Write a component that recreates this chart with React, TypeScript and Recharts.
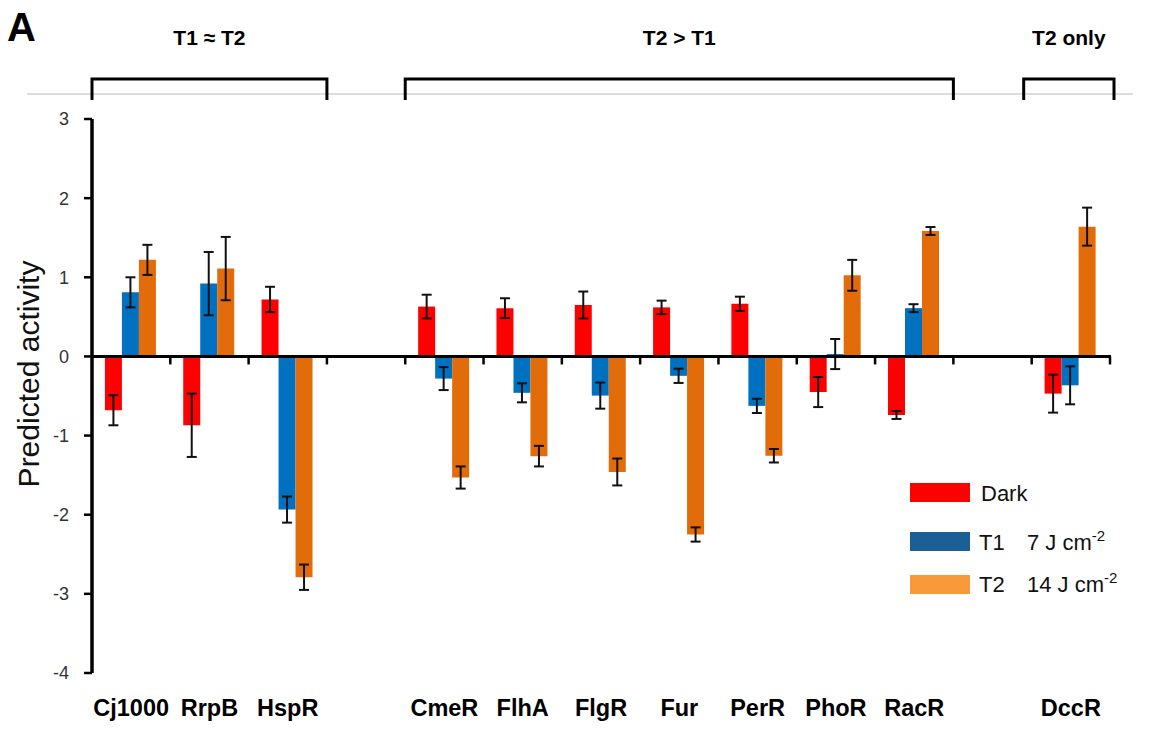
import React from 'react';
import { BarChart, Bar, XAxis, YAxis, ErrorBar, ReferenceLine } from 'recharts';

const categories = ['Cj1000', 'RrpB', 'HspR', '', 'CmeR', 'FlhA', 'FlgR', 'Fur', 'PerR', 'PhoR', 'RacR', '', 'DccR'];
const darkValues = [-0.68, -0.87, 0.72, null, 0.63, 0.61, 0.65, 0.62, 0.665, -0.45, -0.74, null, -0.47];
const darkErrors = [0.19, 0.4, 0.16, null, 0.15, 0.125, 0.17, 0.085, 0.09, 0.19, 0.05, null, 0.24];
const t1Values = [0.81, 0.92, -1.935, null, -0.28, -0.46, -0.495, -0.245, -0.625, 0.03, 0.61, null, -0.365];
const t1Errors = [0.19, 0.4, 0.165, null, 0.145, 0.12, 0.165, 0.09, 0.09, 0.19, 0.05, null, 0.24];
const t2Values = [1.22, 1.11, -2.79, null, -1.53, -1.26, -1.46, -2.25, -1.255, 1.025, 1.585, null, 1.64];
const t2Errors = [0.19, 0.4, 0.16, null, 0.14, 0.13, 0.17, 0.09, 0.085, 0.195, 0.05, null, 0.24];
const yTicks = [-4, -3, -2, -1, 0, 1, 2, 3];
const groups = [
  { label: 'T1 \u2248 T2', from: 0, to: 2 },
  { label: 'T2 > T1', from: 4, to: 10 },
  { label: 'T2 only', from: 12, to: 12 },
];

const BAR_COLORS = { dark: '#ff0000', t1: '#0070c0', t2: '#e36c0a' };
const LEGEND_COLORS = { dark: '#ff0000', t1: '#1c5e96', t2: '#f99a3a' };
const FONT = '"Liberation Sans", Arial, Helvetica, sans-serif';

const W = 1157;
const H = 745;
const M = { top: 119, right: 47, bottom: 22, left: 32 };
const Y_AXIS_W = 60;
const PLOT_LEFT = M.left + Y_AXIS_W;
const PLOT_RIGHT = W - M.right;
const BAND = (PLOT_RIGHT - PLOT_LEFT) / categories.length;

const data = categories.map((name, i) => ({
  id: i,
  name,
  dark: darkValues[i],
  darkErr: darkErrors[i],
  t1: t1Values[i],
  t1Err: t1Errors[i],
  t2: t2Values[i],
  t2Err: t2Errors[i],
}));

const ZeroAxis = (props: any) => {
  const { x1, x2, y1 } = props;
  const band = (x2 - x1) / categories.length;
  return (
    <g>
      <line x1={x1 - 1.5} x2={x2 + 1} y1={y1} y2={y1} stroke="#000" strokeWidth={3} />
      {categories.map((_, i) => (
        <line
          key={i}
          x1={x1 + band * (i + 1)}
          x2={x1 + band * (i + 1)}
          y1={y1}
          y2={y1 + 8}
          stroke="#000"
          strokeWidth={2.5}
        />
      ))}
    </g>
  );
};

export default function App() {
  return (
    <div style={{ position: 'absolute', left: 0, top: 0, width: W, height: H, background: '#fff' }}>
      <BarChart
        width={W}
        height={H}
        data={data}
        margin={M}
        barCategoryGap="16.5%"
        barGap={0}
      >
        <XAxis
          dataKey="id"
          type="category"
          axisLine={false}
          tickLine={false}
          tickSize={0}
          tickMargin={26}
          height={50}
          interval={0}
          tickFormatter={(v: any) => categories[v] ?? ''}
          tick={{ fontFamily: FONT, fontSize: 23.5, fontWeight: 700, fill: '#000' }}
        />
        <YAxis
          domain={[-4, 3]}
          ticks={yTicks}
          interval={0}
          width={Y_AXIS_W}
          axisLine={{ stroke: '#000', strokeWidth: 3.5 }}
          tickLine={{ stroke: '#000', strokeWidth: 2.5 }}
          tickSize={8}
          tickMargin={15}
          tick={{ fontFamily: FONT, fontSize: 18, fill: '#333' }}
        />
        <Bar dataKey="dark" fill={BAR_COLORS.dark} isAnimationActive={false}>
          <ErrorBar dataKey="darkErr" width={5} stroke="#111" strokeWidth={2} />
        </Bar>
        <Bar dataKey="t1" fill={BAR_COLORS.t1} isAnimationActive={false}>
          <ErrorBar dataKey="t1Err" width={5} stroke="#111" strokeWidth={2} />
        </Bar>
        <Bar dataKey="t2" fill={BAR_COLORS.t2} isAnimationActive={false}>
          <ErrorBar dataKey="t2Err" width={5} stroke="#111" strokeWidth={2} />
        </Bar>
        <ReferenceLine y={0} shape={ZeroAxis} />
      </BarChart>

      <svg
        width={W}
        height={H}
        style={{ position: 'absolute', left: 0, top: 0, pointerEvents: 'none' }}
        fontFamily={FONT}
      >
        <text x={7} y={41} fontSize={40} fontWeight={700} fill="#000">A</text>
        <line x1={27} x2={1133} y1={94} y2={94} stroke="#d2d2d2" strokeWidth={1.5} />
        {groups.map((g) => {
          const ext = g.from === g.to ? 8 : 0;
          const gx1 = PLOT_LEFT + g.from * BAND - ext;
          const gx2 = PLOT_LEFT + (g.to + 1) * BAND + ext / 2;
          return (
            <g key={g.label}>
              <text x={(gx1 + gx2) / 2} y={45} fontSize={21} fontWeight={700} textAnchor="middle" fill="#000">
                {g.label}
              </text>
              <polyline
                points={`${gx1},100 ${gx1},79 ${gx2},79 ${gx2},100`}
                fill="none"
                stroke="#000"
                strokeWidth={3}
              />
            </g>
          );
        })}
        <text
          x={28}
          y={374}
          fontSize={30}
          fill="#111"
          textAnchor="middle"
          dominantBaseline="central"
          transform="rotate(-90, 28, 374)"
        >
          Predicted activity
        </text>

        <rect x={910} y={483} width={60} height={19} fill={LEGEND_COLORS.dark} />
        <text x={981} y={501} fontSize={22} fill="#111">Dark</text>

        <rect x={910} y={532} width={60} height={19} fill={LEGEND_COLORS.t1} />
        <text x={979} y={550} fontSize={22} fill="#111">T1</text>
        <text x={1027} y={550} fontSize={22} fill="#111">
          7 J cm<tspan dy={-9} fontSize={15}>-2</tspan>
        </text>

        <rect x={910} y={575} width={60} height={19} fill={LEGEND_COLORS.t2} />
        <text x={979} y={592} fontSize={22} fill="#111">T2</text>
        <text x={1027} y={592} fontSize={22} fill="#111">
          14 J cm<tspan dy={-9} fontSize={15}>-2</tspan>
        </text>
      </svg>
    </div>
  );
}
